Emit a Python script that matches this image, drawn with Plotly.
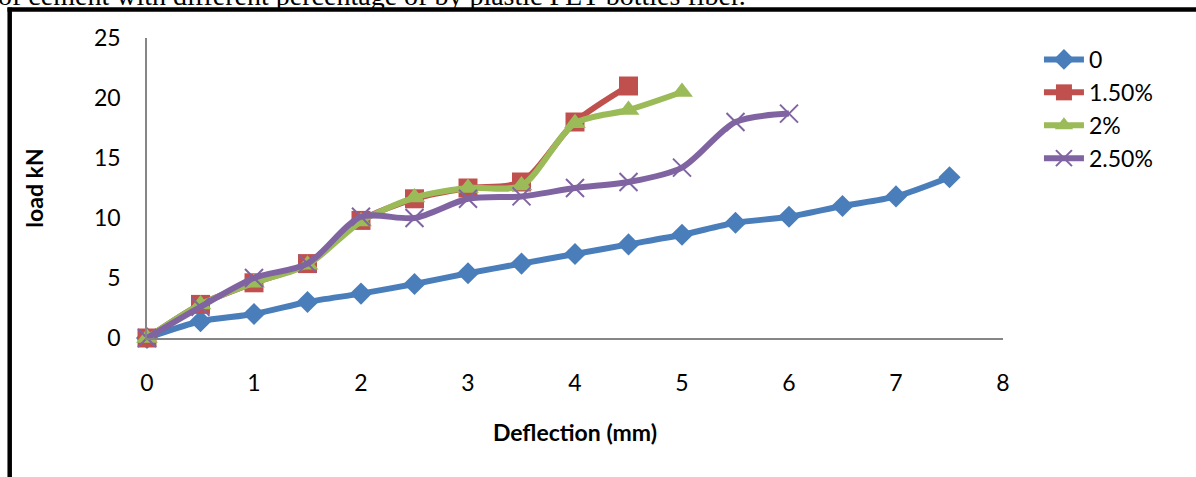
import plotly.graph_objects as go

# ---- data ----
defl_0 = [0, 0.5, 1, 1.5, 2, 2.5, 3, 3.5, 4, 4.5, 5, 5.5, 6, 6.5, 7, 7.5]
load_0 = [0, 1.4, 2.0, 3.0, 3.7, 4.5, 5.4, 6.2, 7.0, 7.8, 8.6, 9.6, 10.1, 11.0, 11.8, 13.4]

defl_150 = [0, 0.5, 1, 1.5, 2, 2.5, 3, 3.5, 4, 4.5]
load_150 = [0, 2.8, 4.6, 6.2, 9.8, 11.6, 12.5, 13.0, 18.0, 21.0]

defl_2 = [0, 0.5, 1, 1.5, 2, 2.5, 3, 3.5, 4, 4.5, 5]
load_2 = [0, 2.8, 4.6, 6.1, 9.7, 11.7, 12.5, 12.7, 17.9, 19.0, 20.5]

defl_250 = [0, 0.5, 1, 1.5, 2, 2.5, 3, 3.5, 4, 4.5, 5, 5.5, 6]
load_250 = [0, 2.6, 5.0, 6.2, 10.1, 10.0, 11.6, 11.8, 12.5, 13.0, 14.2, 18.0, 18.7]

series_names = ["0", "1.50%", "2%", "2.50%"]
x_ticks = [0, 1, 2, 3, 4, 5, 6, 7, 8]
y_ticks = [0, 5, 10, 15, 20, 25]

FONT = "Lato"
FS = 23

fig = go.Figure()

styles = [
    (defl_0, load_0, "#4A7EBB", dict(symbol="diamond", size=17)),
    (defl_150, load_150, "#C0504D", dict(symbol="square", size=19)),
    (defl_2, load_2, "#9BBB59", dict(symbol="triangle-up", size=19)),
    (defl_250, load_250, "#8064A2", dict(symbol="x-thin-open", size=18,
                                         line=dict(width=2, color="#8064A2"))),
]
for name, (xs, ys, col, mk) in zip(series_names, styles):
    fig.add_trace(go.Scatter(
        x=xs, y=ys, name=name, mode="lines+markers",
        line=dict(color=col, width=6, shape="spline", smoothing=0.8),
        marker=dict(color=col, **mk),
        legendgroup=name,
        cliponaxis=False,
    ))

fig.update_layout(
    width=1196, height=477,
    margin=dict(l=147, r=193, t=37.5, b=138.5, pad=0),
    paper_bgcolor="white", plot_bgcolor="white",
    font=dict(family=FONT, size=FS, color="black"),
    showlegend=True,
    legend=dict(x=1.042, y=1.0, xanchor="left", yanchor="top",
                font=dict(family=FONT, size=FS, color="black"),
                tracegroupgap=0, bgcolor="rgba(0,0,0,0)", itemwidth=40),
    xaxis=dict(range=[0, 8], tickvals=x_ticks, ticktext=[str(v) for v in x_ticks],
               showgrid=False, zeroline=False, showline=True,
               linecolor="#868686", linewidth=1.5, ticks="",
               ticklabelstandoff=24,
               tickfont=dict(family=FONT, size=FS, color="black"),
               title=dict(text="<b>Deflection (mm)</b>", standoff=30,
                          font=dict(family=FONT, size=FS, color="black"))),
    yaxis=dict(range=[0, 25], tickvals=y_ticks, ticktext=[str(v) for v in y_ticks],
               showgrid=False, zeroline=False, showline=True,
               linecolor="#868686", linewidth=1.5, ticks="",
               ticklabelstandoff=20,
               tickfont=dict(family=FONT, size=FS, color="black"),
               title=dict(text="<b>load kN</b>", standoff=44,
                          font=dict(family=FONT, size=FS, color="black"))),
)

# document frame (top and left edges) and cut-off caption above the chart
fig.add_shape(type="line", xref="paper", yref="paper",
              x0=(7.5 - 147) / 856, x1=(1200 - 147) / 856,
              y0=(338.5 - 9) / 301, y1=(338.5 - 9) / 301,
              line=dict(color="black", width=4.5))
fig.add_shape(type="line", xref="paper", yref="paper",
              x0=(9.7 - 147) / 856, x1=(9.7 - 147) / 856,
              y0=(338.5 - 7) / 301, y1=(338.5 - 480) / 301,
              line=dict(color="black", width=4.5))
fig.add_annotation(xref="paper", yref="paper",
                   x=(-4 - 147) / 856, y=(338.5 - 12) / 301,
                   xanchor="left", yanchor="bottom", showarrow=False,
                   text="of cement with different percentage of by plastic PET bottles fiber.",
                   font=dict(family="Liberation Serif", size=28, color="black"))

fig.write_html("out.html", config={"displayModeBar": False},
               post_script="document.body.style.margin='0';")
